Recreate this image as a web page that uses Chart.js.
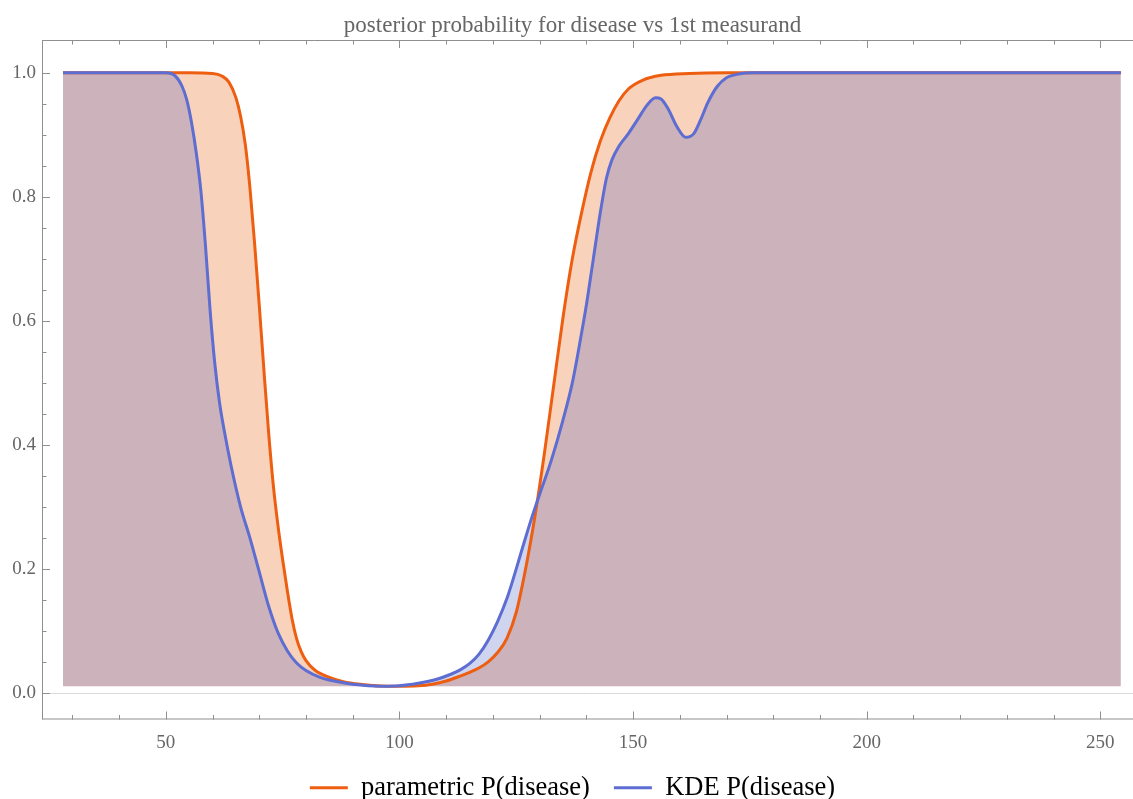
<!DOCTYPE html>
<html>
<head>
<meta charset="utf-8">
<script src="https://cdn.jsdelivr.net/npm/chart.js@4.4.1/dist/chart.umd.min.js"></script>
<style>
  body { margin: 0; background: #fff; }
  canvas { display: block; }
</style>
</head>
<body>
<canvas id="chart" width="1133" height="799"></canvas>
<script>
// parametric posterior
const paramX = [28, 55, 60, 62, 63.5, 65, 66, 67, 68, 69, 70, 71, 72, 73, 74, 75, 76, 77, 78, 79, 80, 82, 85, 88, 92, 96, 100,
  104, 107, 110, 113, 115, 117, 119, 121, 123, 125, 127, 129, 131, 133, 135, 137, 139, 141, 143, 145, 147, 149, 152, 156, 162, 170, 254.4];
const paramP = [1.0, 1.0, 0.999, 0.995, 0.985, 0.96, 0.93, 0.885, 0.815, 0.725, 0.625, 0.52, 0.42, 0.335, 0.27, 0.215, 0.165, 0.12, 0.087, 0.066, 0.052, 0.036, 0.025, 0.018, 0.0135, 0.011, 0.0107,
  0.0115, 0.014, 0.019, 0.027, 0.033, 0.04, 0.05, 0.065, 0.088, 0.13, 0.2, 0.285, 0.385, 0.495, 0.605, 0.70, 0.775, 0.84, 0.89, 0.927, 0.955, 0.974, 0.988, 0.996, 0.999, 1.0, 1.0];

// KDE posterior
const kdeX = [28, 50, 52, 53.5, 54.5, 55.5, 56.5, 57.5, 58.5, 59.5, 60.5, 61.5, 62.5, 64, 66, 68, 70, 72, 74, 76, 78, 80, 83, 86, 90, 96, 100,
  104, 108, 111, 113, 115, 117, 119, 121, 123, 125, 126.5, 128, 130, 132.5, 135, 137, 138.5, 140, 141.5, 143, 144.3, 145.5, 147, 149,
  151, 153, 154.8, 156, 157.5, 159.4, 161.3, 163, 164.5, 166, 168, 170, 172.5, 176, 254.4];
const kdeP = [1.0, 1.0, 0.995, 0.978, 0.956, 0.92, 0.872, 0.81, 0.72, 0.615, 0.53, 0.468, 0.423, 0.365, 0.3, 0.25, 0.195, 0.14, 0.097, 0.068, 0.048, 0.036, 0.025, 0.019, 0.014, 0.0108, 0.0115,
  0.0155, 0.022, 0.03, 0.037, 0.047, 0.062, 0.085, 0.115, 0.152, 0.2, 0.238, 0.275, 0.32, 0.375, 0.44, 0.5, 0.56, 0.625, 0.70, 0.775, 0.83, 0.86, 0.882, 0.902,
  0.925, 0.948, 0.96, 0.958, 0.942, 0.913, 0.896, 0.902, 0.925, 0.952, 0.978, 0.992, 0.998, 1.0, 1.0];

const fillBase = 0.0107;
const xTicks = [50, 100, 150, 200, 250];
const xMinor = [30, 40, 60, 70, 80, 90, 110, 120, 130, 140, 160, 170, 180, 190, 210, 220, 230, 240];
const yTicks = [0, 0.2, 0.4, 0.6, 0.8, 1.0];
const yMinor = [0.05, 0.1, 0.15, 0.25, 0.3, 0.35, 0.45, 0.5, 0.55, 0.65, 0.7, 0.75, 0.85, 0.9, 0.95];

const orange = '#ee5e10';
const blue = '#5d6dd1';
const serif = '"Liberation Serif", "Times New Roman", serif';

// Mathematica-like frame: ticks point inward, light line at y = 0
const framePlugin = {
  id: 'frame',
  beforeDatasetsDraw(chart) {
    const { ctx, chartArea: a, scales: { y } } = chart;
    const y0 = Math.round(y.getPixelForValue(0)) + 0.5;
    ctx.save();
    ctx.strokeStyle = '#dadada';
    ctx.lineWidth = 1;
    ctx.beginPath();
    ctx.moveTo(a.left, y0);
    ctx.lineTo(a.right, y0);
    ctx.stroke();
    ctx.restore();
  },
  afterDraw(chart) {
    const { ctx, chartArea: a, scales: { x, y } } = chart;
    ctx.save();
    ctx.strokeStyle = '#8f8f8f';
    ctx.lineWidth = 1;
    ctx.beginPath();
    ctx.moveTo(a.left + 0.5, a.top);
    ctx.lineTo(a.left + 0.5, a.bottom);
    ctx.moveTo(a.left, a.top + 0.5);
    ctx.lineTo(a.right, a.top + 0.5);
    ctx.moveTo(a.left, a.bottom - 0.5);
    ctx.lineTo(a.right, a.bottom - 0.5);
    const xt = (v, len) => {
      const px = Math.round(x.getPixelForValue(v)) + 0.5;
      ctx.moveTo(px, a.bottom);
      ctx.lineTo(px, a.bottom - len);
      ctx.moveTo(px, a.top);
      ctx.lineTo(px, a.top + len);
    };
    const yt = (v, len) => {
      const py = Math.round(y.getPixelForValue(v)) + 0.5;
      ctx.moveTo(a.left, py);
      ctx.lineTo(a.left + len, py);
    };
    xTicks.forEach(v => xt(v, 8));
    xMinor.forEach(v => xt(v, 4.5));
    yTicks.forEach(v => yt(v, 8));
    yMinor.forEach(v => yt(v, 4.5));
    ctx.stroke();
    ctx.restore();
  }
};

new Chart(document.getElementById('chart'), {
  type: 'line',
  data: {
    datasets: [
      {
        label: 'parametric P(disease)',
        data: paramX.map((v, i) => ({ x: v, y: paramP[i] })),
        borderColor: orange,
        backgroundColor: 'rgb(249,210,187)',
        fill: { value: fillBase },
        borderWidth: 3,
        pointRadius: 0,
        cubicInterpolationMode: 'monotone',
        order: 1
      },
      {
        label: 'KDE P(disease)',
        data: kdeX.map((v, i) => ({ x: v, y: kdeP[i] })),
        borderColor: blue,
        backgroundColor: 'rgba(59,80,188,0.24)',
        fill: { value: fillBase },
        borderWidth: 3,
        pointRadius: 0,
        cubicInterpolationMode: 'monotone',
        order: 0
      }
    ]
  },
  options: {
    responsive: false,
    animation: false,
    events: [],
    layout: { padding: { left: 12, right: 0, top: 0, bottom: -12 } },
    scales: {
      x: {
        type: 'linear',
        min: 23.5,
        max: 257,
        grid: { display: false, drawTicks: false },
        border: { display: false },
        afterBuildTicks: s => { s.ticks = xTicks.map(v => ({ value: v })); },
        afterFit: s => { s.height = 31; },
        ticks: {
          autoSkip: false,
          maxRotation: 0,
          padding: 12,
          color: '#666',
          font: { family: serif, size: 19 },
          callback: v => String(v)
        }
      },
      y: {
        min: -0.043,
        max: 1.053,
        grid: { display: false, drawTicks: false },
        border: { display: false },
        afterBuildTicks: s => { s.ticks = yTicks.map(v => ({ value: v })); },
        afterFit: s => { s.width = 30; },
        ticks: {
          padding: 6,
          color: '#666',
          font: { family: serif, size: 19 },
          callback: v => v.toFixed(1)
        }
      }
    },
    plugins: {
      filler: { drawTime: 'beforeDatasetsDraw' },
      tooltip: { enabled: false },
      title: {
        display: true,
        text: 'posterior probability for disease vs 1st measurand',
        color: '#666',
        font: { family: serif, size: 23, weight: 'normal', lineHeight: 1.2 },
        padding: { top: 12.4, bottom: 0 }
      },
      legend: {
        position: 'bottom',
        labels: {
          color: '#000',
          font: { family: serif, size: 26.5 },
          boxWidth: 38,
          boxHeight: 3,
          padding: 24,
          sort: (a, b) => a.datasetIndex - b.datasetIndex,
          generateLabels: chart => Chart.defaults.plugins.legend.labels.generateLabels(chart)
            .map(l => ({ ...l, fillStyle: l.strokeStyle, lineWidth: 0 }))
        }
      }
    }
  },
  plugins: [framePlugin]
});
</script>
</body>
</html>
